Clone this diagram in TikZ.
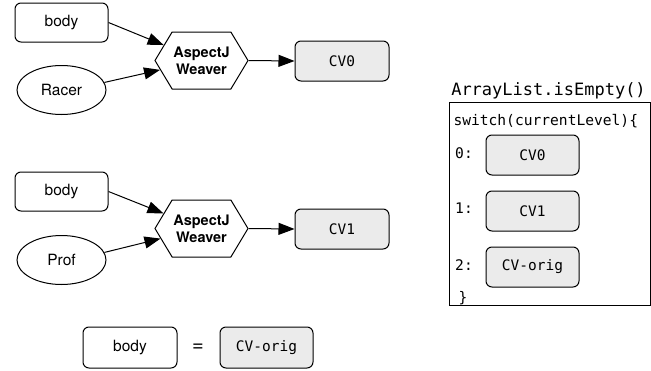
\documentclass[tikz,border=0pt]{standalone}
\usepackage{fontspec}
\setmainfont{TeX Gyre Heros}
\setmonofont{DejaVu Sans Mono}
\usetikzlibrary{shapes.geometric,shapes.symbols,arrows.meta}
\definecolor{cvgray}{HTML}{EBEBEB}
\begin{document}
\begin{tikzpicture}[x=1pt,y=-1pt,line width=1pt]
 \tikzset{src/.style={draw, rounded corners=6pt, minimum width=93pt, minimum height=39pt, font=\fontsize{15.5}{18}\selectfont},
  aspect/.style={draw, ellipse, minimum width=89pt, minimum height=49pt, font=\fontsize{15.5}{18}\selectfont},
  weaver/.style={draw, signal, signal to=east and west, signal pointer angle=118, minimum width=93pt, minimum height=57pt, inner sep=0pt, align=center, font=\bfseries\fontsize{14.5}{17}\selectfont},
  cv/.style={draw, fill=cvgray, rounded corners=6pt, minimum width=94pt, minimum height=40pt, font=\ttfamily\fontsize{14.5}{17}\selectfont},
  code/.style={font=\ttfamily\fontsize{14.6}{17}\selectfont, inner sep=0pt},
  weave/.style={-{Triangle[length=16pt,width=12pt]}}}
  \useasboundingbox (0,0) rectangle (651,370);
  % Racer level
  \node[src] (body0) at (61.5,22.5) {body};
  \node[aspect] (racer) at (61.5,90) {Racer};
  \node[weaver] (weave0) at (201.5,60.5) {AspectJ\\Weaver};
  \node[cv] (cv0) at (342,61) {CV0};
  \draw[weave] (body0.east) -- (weave0);
  \draw[weave] (racer.10) -- (weave0);
  \draw[weave] (weave0.east) -- (cv0.west);
  % Prof level
  \node[src] (body1) at (61.5,191.5) {body};
  \node[aspect] (prof) at (61.5,260) {Prof};
  \node[weaver] (weave1) at (201.5,228.5) {AspectJ\\Weaver};
  \node[cv] (cv1) at (342,229) {CV1};
  \draw[weave] (body1.east) -- (weave1);
  \draw[weave] (prof.10) -- (weave1);
  \draw[weave] (weave1.east) -- (cv1.west);
  % original
  \node[src, minimum width=94pt, minimum height=41pt] (body2) at (130,347.5) {body};
  \node[font=\fontsize{20}{20}\selectfont] (eq) at (198,348) {=};
  \node[cv, minimum width=93pt, minimum height=41pt] (cvorig) at (266.5,347.5) {CV-orig};
  % dispatch
  \node[font=\ttfamily\fontsize{17}{20}\selectfont] (title) at (548.5,91) {ArrayList.isEmpty()};
  \node[draw, minimum width=201pt, minimum height=203pt] (case) at (549.5,203.5) {};
  \node[code, anchor=west] (switch) at (453,121) {switch(currentLevel)\{};
  \node[cv, minimum width=93pt] (case0) at (532.5,155) {CV0};
  \node[cv, minimum width=93pt] (case1) at (532.5,211) {CV1};
  \node[cv, minimum width=93pt] (case2) at (532.5,267) {CV-orig};
  \node[code] (lab0) at (464,153) {0:};
  \node[code] (lab1) at (464,208) {1:};
  \node[code] (lab2) at (464,265) {2:};
  \node[code] (close) at (463,298) {\}};
\end{tikzpicture}
\end{document}
